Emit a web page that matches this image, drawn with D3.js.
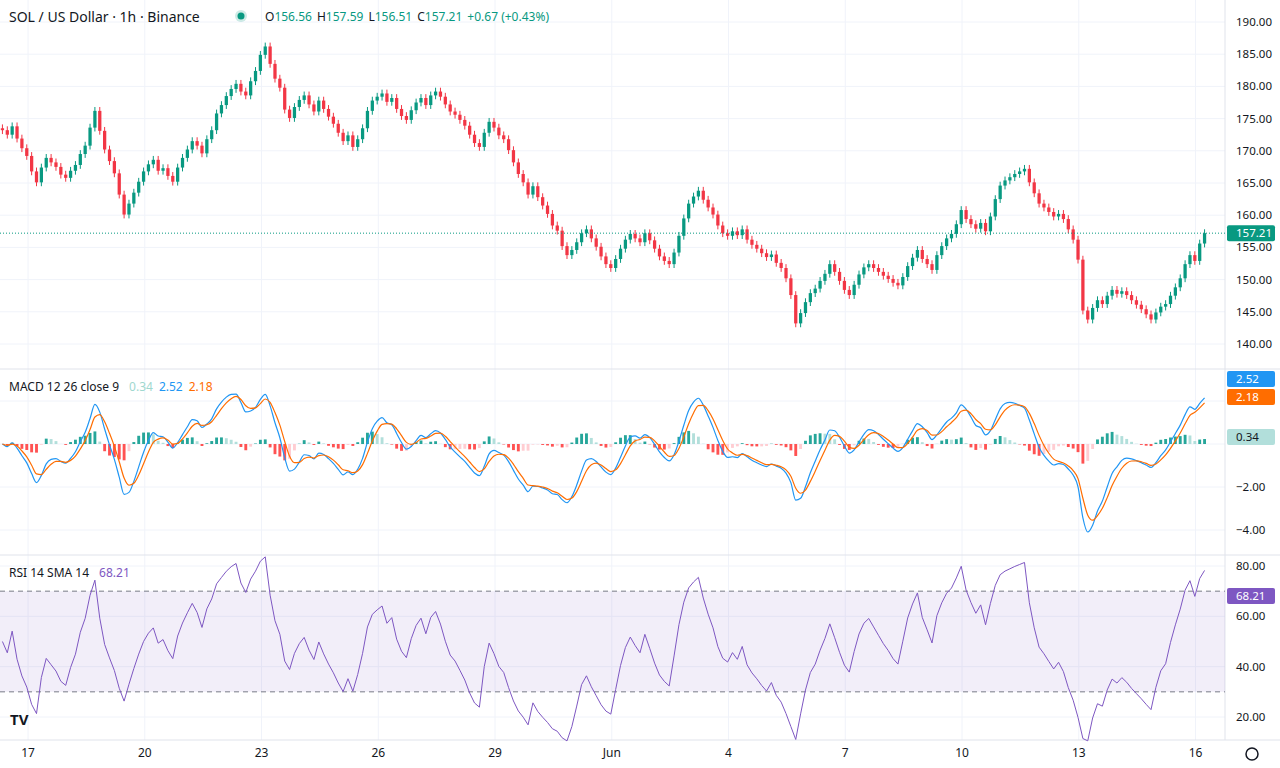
<!DOCTYPE html>
<html><head><meta charset="utf-8">
<script src="https://cdn.jsdelivr.net/npm/d3@7"></script>
<style>body{margin:0;background:#fff;font-family:"Noto Sans",Roboto,sans-serif}</style>
</head><body><svg id="c" width="1280" height="768"></svg>
<script>
// 3-hour closes (SOL/USD, May 16 - Jun 16)
const closes = [
173.2,172.5,173.8,171.9,170.4,169.2,166.8,165.1,167.4,168.9,
168.2,167.5,166.3,165.8,166.9,167.8,169.5,170.8,173.6,176.2,
173.1,170.2,168.4,166.5,163.2,160.1,161.8,163.5,165.2,166.8,
167.9,168.6,166.9,167.3,166.1,165.2,167.4,168.9,170.2,171.5,
170.8,169.6,171.8,173.2,175.8,177.1,178.5,179.6,180.4,179.2,
178.6,180.8,182.4,184.9,186.2,183.5,181.2,179.8,176.4,175.1,
176.8,177.9,178.6,177.2,176.1,177.8,176.5,175.3,174.2,172.8,
171.5,172.4,170.6,171.8,173.5,176.2,177.8,178.4,178.9,177.6,
178.2,176.5,175.4,174.8,176.3,177.5,178.2,177.1,178.6,179.2,
178.4,177.2,176.1,175.6,174.8,173.9,172.5,171.2,170.6,172.8,
174.5,173.6,172.4,171.8,170.1,168.2,166.4,165.1,163.2,164.5,
162.8,161.5,160.2,158.4,157.6,155.2,153.8,154.6,155.8,157.2,
157.8,156.4,155.1,153.6,152.4,151.8,153.2,154.8,156.2,157.1,
156.4,155.8,157.2,156.1,154.8,153.6,152.9,152.4,154.2,156.8,
159.5,161.8,162.9,163.8,162.4,161.2,160.1,158.4,157.2,156.8,
157.5,156.9,157.8,156.2,155.4,154.8,154.1,153.5,153.9,152.6,
151.8,150.2,147.6,143.2,144.8,146.5,147.9,148.6,149.8,150.9,
152.4,151.2,149.8,148.4,147.6,149.2,150.8,151.9,152.4,151.8,
151.2,150.6,150.1,149.5,149.1,150.4,152.1,153.4,154.6,153.2,
152.4,151.5,153.8,155.2,156.4,157.1,158.6,160.8,159.4,158.6,
157.9,158.8,157.5,159.8,162.5,164.6,165.4,165.9,166.4,166.8,
167.2,165.1,163.4,161.8,161.2,160.5,159.8,160.2,159.4,157.8,
156.2,153.1,145.2,143.8,145.6,146.8,146.2,147.5,148.4,147.8,
148.2,147.6,146.8,146.1,145.4,144.6,143.8,144.9,145.8,146.2,
147.5,148.8,150.2,152.4,153.8,152.9,155.6,157.21];
const firstOpen = 173.5;
const priceTicks = [140,145,150,155,160,165,170,175,180,185,190];
const macdTicks = [-4,-2,0];
const rsiTicks = [20,40,60,80];
const dayLabels = ["17","20","23","26","29","Jun","4","7","10","13","16"];
const header = {o:"156.56",h:"157.59",l:"156.51",c:"157.21",ch:"+0.67 (+0.43%)"};
const macdLegend = ["0.34","2.52","2.18"];
const rsiLegend = "68.21";

const svg = d3.select("#c");
const UP="#089981", DN="#f23645", GRID="#f0f3fa", TXT="#131722";
const n = closes.length;
const x = d3.scaleLinear().domain([0,n]).range([0,1207]);
const hx = d3.scaleLinear().domain([0,745]).range([0,1208]);
const yP = d3.scaleLinear().domain([140,190]).range([344,22]);
const yM = d3.scaleLinear().domain([-4,0]).range([530,444]);
const yR = d3.scaleLinear().domain([20,80]).range([717,566]);

// grid
const tickX = dayLabels.map((d,i)=>hx(17.3+72*i));
tickX.forEach(t=>svg.append("line").attr("x1",t).attr("x2",t).attr("y1",0).attr("y2",740).attr("stroke",GRID));
priceTicks.forEach(v=>svg.append("line").attr("x1",0).attr("x2",1225).attr("y1",yP(v)).attr("y2",yP(v)).attr("stroke",GRID));
[-4,-2,0,2].forEach(v=>svg.append("line").attr("x1",0).attr("x2",1225).attr("y1",yM(v)).attr("y2",yM(v)).attr("stroke",GRID));
[20,40,60,80].forEach(v=>svg.append("line").attr("x1",0).attr("x2",1225).attr("y1",yR(v)).attr("y2",yR(v)).attr("stroke",GRID));
[369,555].forEach(y=>svg.append("line").attr("x1",0).attr("x2",1280).attr("y1",y).attr("y2",y).attr("stroke","#e0e3eb"));
svg.append("line").attr("x1",1225).attr("x2",1225).attr("y1",0).attr("y2",740).attr("stroke","#e0e3eb");
svg.append("line").attr("x1",0).attr("x2",1280).attr("y1",740).attr("y2",740).attr("stroke","#e0e3eb");

// candles
const bars = closes.map((c,i)=>{const o=i?closes[i-1]:firstOpen;return {i,o,c,h:Math.max(o,c)+0.6,l:Math.min(o,c)-0.6};});
const bw = x(1)-x(0);
const g = svg.append("g");
g.selectAll("line").data(bars).join("line")
  .attr("x1",d=>x(d.i+0.5)).attr("x2",d=>x(d.i+0.5)).attr("y1",d=>yP(d.h)).attr("y2",d=>yP(d.l))
  .attr("stroke",d=>d.c>=d.o?UP:DN);
g.selectAll("rect").data(bars).join("rect")
  .attr("x",d=>x(d.i)+0.8).attr("width",bw-1.6)
  .attr("y",d=>yP(Math.max(d.o,d.c))).attr("height",d=>Math.max(1,Math.abs(yP(d.o)-yP(d.c))))
  .attr("fill",d=>d.c>=d.o?UP:DN);
const last = closes[n-1];
svg.append("line").attr("x1",0).attr("x2",1225).attr("y1",yP(last)).attr("y2",yP(last)).attr("stroke","#089981").attr("stroke-dasharray","1,2");

// indicators (spans scaled to 3h bars: 12/26/9 h -> 4/9/3)
const ema=(a,p)=>{const k=2/(p+1);let e=a[0];return a.map(v=>e=v*k+e*(1-k));};
const e1=ema(closes,4), e2=ema(closes,9);
const macd=closes.map((c,i)=>(e1[i]-e2[i])*0.85);
const sig=ema(macd,3);
const hist=macd.map((m,i)=>m-sig[i]);
svg.append("g").selectAll("rect").data(hist).join("rect")
  .attr("x",(d,i)=>x(i)+1).attr("width",bw-2)
  .attr("y",d=>Math.min(yM(0),yM(d))).attr("height",d=>Math.abs(yM(d)-yM(0)))
  .attr("fill",(d,i)=>{const up=i>0&&d>hist[i-1];return d>=0?(up?"#26a69a":"#b2dfdb"):(up?"#ffcdd2":"#ff5252");});
const lineM=d3.line().x((d,i)=>x(i+0.5)).y(d=>yM(d)).curve(d3.curveMonotoneX);
svg.append("path").attr("d",lineM(macd)).attr("fill","none").attr("stroke","#2196f3").attr("stroke-width",1.2);
svg.append("path").attr("d",lineM(sig)).attr("fill","none").attr("stroke","#ff6d00").attr("stroke-width",1.2);

const rp=9; let ag=0.5, al=0.5; const rsi=[];
closes.forEach((c,i)=>{const d=i?c-closes[i-1]:0;const gn=Math.max(d,0),ls=Math.max(-d,0);
  ag=(ag*(rp-1)+gn)/rp; al=(al*(rp-1)+ls)/rp; rsi.push(100-100/(1+ag/(al||1e-6)));});
svg.append("rect").attr("x",0).attr("width",1225).attr("y",yR(70)).attr("height",yR(30)-yR(70)).attr("fill","rgba(126,87,194,0.1)");
[70,30].forEach(v=>svg.append("line").attr("x1",0).attr("x2",1225).attr("y1",yR(v)).attr("y2",yR(v)).attr("stroke","#787b86").attr("stroke-dasharray","5,4"));
svg.append("path").attr("d",d3.line().x((d,i)=>x(i+0.5)).y(d=>yR(d))(rsi)).attr("fill","none").attr("stroke","#7e57c2").attr("stroke-width",1);

// tags first so axis labels can avoid them
const tags=[[yP(last),header.c,UP,"#fff"],[379,macdLegend[1],"#2196f3","#fff"],[397,macdLegend[2],"#ff6d00","#fff"],
  [437,macdLegend[0],"#b2dfdb",TXT],[596,rsiLegend,"#7e57c2","#fff"]];
const ax=(y,t)=>{if(tags.some(d=>Math.abs(d[0]-y)<13))return;
  svg.append("text").attr("x",1236).attr("y",y+4).attr("font-size",11.5).attr("fill",TXT).text(t);};
priceTicks.forEach(v=>ax(yP(v),v.toFixed(2)));
macdTicks.forEach(v=>ax(yM(v),v===0?"0.00":"−"+Math.abs(v).toFixed(2)));
rsiTicks.forEach(v=>ax(yR(v),v.toFixed(2)));
tags.forEach(([y,t,bg,fg])=>{svg.append("rect").attr("x",1227).attr("y",y-8).attr("width",48).attr("height",16).attr("rx",2).attr("fill",bg);
  svg.append("text").attr("x",1236).attr("y",y+4).attr("font-size",11.5).attr("fill",fg).text(t);});
dayLabels.forEach((d,i)=>svg.append("text").attr("x",tickX[i]).attr("y",757).attr("text-anchor","middle").attr("font-size",12).attr("fill",TXT).text(d));

// legends
svg.append("text").attr("x",9).attr("y",22).attr("font-size",14).attr("fill",TXT).text("SOL / US Dollar · 1h · Binance");
svg.append("circle").attr("cx",241).attr("cy",16).attr("r",6).attr("fill","rgba(8,153,129,0.2)");
svg.append("circle").attr("cx",241).attr("cy",16).attr("r",3.5).attr("fill",UP);
const hd=svg.append("text").attr("x",265).attr("y",21).attr("font-size",12).attr("fill",TXT);
[["O",header.o],["H",header.h],["L",header.l],["C",header.c]].forEach(([k,v],i)=>{hd.append("tspan").attr("dx",i?5:0).text(k);hd.append("tspan").attr("fill",UP).text(v);});
hd.append("tspan").attr("dx",5).attr("fill",UP).text(header.ch);
const ml=svg.append("text").attr("x",9).attr("y",391).attr("font-size",12).attr("fill",TXT);
ml.append("tspan").text("MACD 12 26 close 9");
ml.append("tspan").attr("dx",10).attr("fill","#9fd8cf").text(macdLegend[0]);
ml.append("tspan").attr("dx",6).attr("fill","#2196f3").text(macdLegend[1]);
ml.append("tspan").attr("dx",6).attr("fill","#ff6d00").text(macdLegend[2]);
const rl=svg.append("text").attr("x",9).attr("y",577).attr("font-size",12).attr("fill",TXT);
rl.append("tspan").text("RSI 14 SMA 14");
rl.append("tspan").attr("dx",10).attr("fill","#7e57c2").text(rsiLegend);
svg.append("text").attr("x",10).attr("y",725).attr("font-size",15).attr("font-weight","bold").attr("fill",TXT).text("TV");
svg.append("circle").attr("cx",1252).attr("cy",754).attr("r",6).attr("fill","none").attr("stroke",TXT).attr("stroke-width",1.5);
</script></body></html>
